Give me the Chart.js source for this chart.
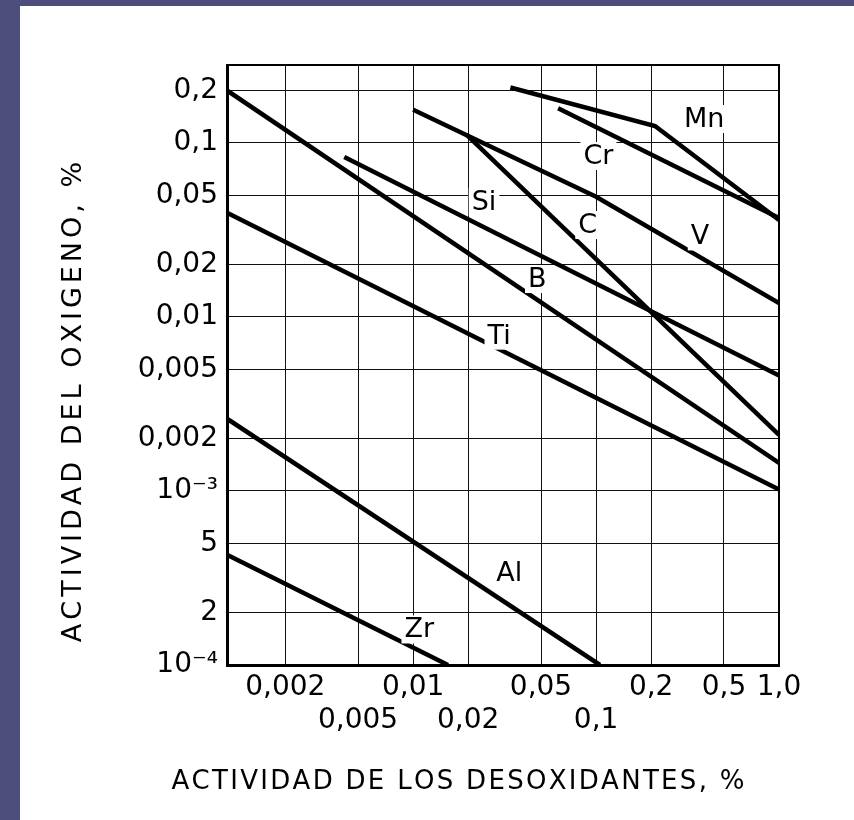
<!DOCTYPE html>
<html>
<head>
<meta charset="utf-8">
<script src="https://cdn.jsdelivr.net/npm/chart.js@4.4.1/dist/chart.umd.min.js"></script>
<style>
html,body{margin:0;padding:0;background:#fff;}
#wrap{position:relative;width:854px;height:820px;overflow:hidden;}
.band-left{position:absolute;left:0;top:0;width:20px;height:820px;background:#4d4e7c;}
.band-top{position:absolute;left:0;top:0;width:854px;height:6px;background:#4d4e7c;}
canvas{position:absolute;left:0;top:0;}
</style>
</head>
<body>
<div id="wrap">
<div class="band-left"></div>
<div class="band-top"></div>
<canvas id="chart" width="854" height="820"></canvas>
</div>
<script>
// deoxidant activity (%) vs oxygen activity (%)
const mnX = [0.034, 0.21, 1.0];
const mnY = [0.208, 0.125, 0.036];
const crX = [0.062, 1.0];
const crY = [0.158, 0.037];
const vX = [0.01, 0.1, 1.0];
const vY = [0.155, 0.049, 0.012];
const cX = [0.0195, 1.0];
const cY = [0.112, 0.0021];
const siX = [0.0042, 1.0];
const siY = [0.083, 0.0046];
const bX = [0.00096, 1.0];
const bY = [0.2, 0.00145];
const tiX = [0.00096, 1.0];
const tiY = [0.0396, 0.00102];
const alX = [0.00096, 0.105];
const alY = [0.0026, 0.0001];
const zrX = [0.00096, 0.0155];
const zrY = [0.00043, 0.0001];

// curve labels and where they sit (data units)
const labelText = ['Mn', 'Cr', 'V', 'C', 'Si', 'B', 'Ti', 'Al', 'Zr'];
const labelX = [0.39, 0.103, 0.37, 0.09, 0.0244, 0.0477, 0.0295, 0.0335, 0.0108];
const labelY = [0.137, 0.084, 0.029, 0.0337, 0.0456, 0.0165, 0.0078, 0.000337, 0.00016];

const xTickVals = [0.002, 0.005, 0.01, 0.02, 0.05, 0.1, 0.2, 0.5, 1.0];
const xTickText = ['0,002', '0,005', '0,01', '0,02', '0,05', '0,1', '0,2', '0,5', '1,0'];
const xTickRow = [0, 1, 0, 1, 0, 1, 0, 0, 0];
const yTickVals = [0.0001, 0.0002, 0.0005, 0.001, 0.002, 0.005, 0.01, 0.02, 0.05, 0.1, 0.2];
const yTickText = ['10\u207B\u2074', '2', '5', '10\u207B\u00B3', '0,002', '0,005', '0,01', '0,02', '0,05', '0,1', '0,2'];

const FONT = "'DejaVu Sans', sans-serif";

function pts(xs, ys){
  return xs.map((x, i) => ({x: x, y: ys[i]}));
}

// text with extra space between letters, centred on (cx, cy)
function spacedText(ctx, text, cx, cy, gap){
  const chars = text.split('');
  const widths = chars.map(c => ctx.measureText(c).width);
  const total = widths.reduce((s, w) => s + w, 0) + gap * (chars.length - 1);
  let x = cx - total / 2;
  ctx.textAlign = 'left';
  chars.forEach((c, i) => {
    ctx.fillText(c, x, cy);
    x += widths[i] + gap;
  });
}

const curves = [
  pts(mnX, mnY), pts(crX, crY), pts(vX, vY), pts(cX, cY), pts(siX, siY),
  pts(bX, bY), pts(tiX, tiY), pts(alX, alY), pts(zrX, zrY)
];

const datasets = curves.map((d, i) => ({
  label: labelText[i],
  data: d,
  showLine: true,
  borderColor: '#000',
  borderWidth: 4.5,
  pointRadius: 0,
  tension: 0,
  borderCapStyle: 'butt'
}));

const framePlugin = {
  id: 'frame',
  beforeDatasetsDraw(chart){
    const a = chart.chartArea, ctx = chart.ctx;
    ctx.save();
    ctx.strokeStyle = '#000';
    ctx.lineWidth = 2;
    ctx.beginPath();
    ctx.moveTo(a.left, a.top);
    ctx.lineTo(a.right, a.top);
    ctx.lineTo(a.right, a.bottom);
    ctx.stroke();
    ctx.restore();
  }
};

const labelPlugin = {
  id: 'curveLabels',
  afterDatasetsDraw(chart){
    const ctx = chart.ctx, xs = chart.scales.x, ys = chart.scales.y;
    ctx.save();
    ctx.font = '27px ' + FONT;
    ctx.textAlign = 'center';
    ctx.textBaseline = 'middle';
    labelText.forEach((t, i) => {
      const px = xs.getPixelForValue(labelX[i]);
      const py = ys.getPixelForValue(labelY[i]);
      const w = ctx.measureText(t).width;
      ctx.fillStyle = '#fff';
      ctx.fillRect(px - w / 2 - 3, py - 14, w + 6, 28);
      ctx.fillStyle = '#000';
      ctx.fillText(t, px, py + 1);
    });
    ctx.restore();
  }
};

const titlePlugin = {
  id: 'axisTitles',
  afterDraw(chart){
    const a = chart.chartArea, ctx = chart.ctx;
    ctx.save();
    ctx.fillStyle = '#000';
    ctx.textBaseline = 'middle';
    ctx.font = '26px ' + FONT;
    spacedText(ctx, 'ACTIVIDAD DE LOS DESOXIDANTES, %', a.left + 231, a.bottom + 117, 2.3);
    ctx.font = '27px ' + FONT;
    ctx.translate(a.left - 153, a.top + 337);
    ctx.rotate(-Math.PI / 2);
    spacedText(ctx, 'ACTIVIDAD DEL OXIGENO, %', 0, 0, 4);
    ctx.restore();
  }
};

new Chart(document.getElementById('chart'), {
  type: 'scatter',
  data: {datasets: datasets},
  options: {
    responsive: false,
    animation: false,
    layout: {padding: {left: 20, right: 75, top: 65, bottom: 0}},
    plugins: {legend: {display: false}, tooltip: {enabled: false}},
    scales: {
      x: {
        type: 'logarithmic',
        min: 0.00096,
        max: 1.0,
        afterBuildTicks: (axis) => { axis.ticks = xTickVals.map(v => ({value: v})); },
        afterFit: (axis) => { axis.height = 155; },
        grid: {color: '#111', lineWidth: 1, drawTicks: false},
        border: {color: '#000', width: 3},
        ticks: {
          autoSkip: false, maxRotation: 0, minRotation: 0, padding: 7,
          color: '#000',
          font: {family: FONT, size: 28, lineHeight: 1.15},
          callback: (v, i) => xTickRow[i] ? ['', xTickText[i]] : [xTickText[i], '']
        }
      },
      y: {
        type: 'logarithmic',
        min: 0.0001,
        max: 0.28,
        afterBuildTicks: (axis) => { axis.ticks = yTickVals.map(v => ({value: v})); },
        afterFit: (axis) => { axis.width = 207; },
        grid: {color: '#111', lineWidth: 1, drawTicks: false},
        border: {color: '#000', width: 3},
        ticks: {
          autoSkip: false, padding: 9, color: '#000',
          font: {family: FONT, size: 28},
          callback: (v, i) => yTickText[i]
        }
      }
    }
  },
  plugins: [framePlugin, labelPlugin, titlePlugin]
});
</script>
</body>
</html>
